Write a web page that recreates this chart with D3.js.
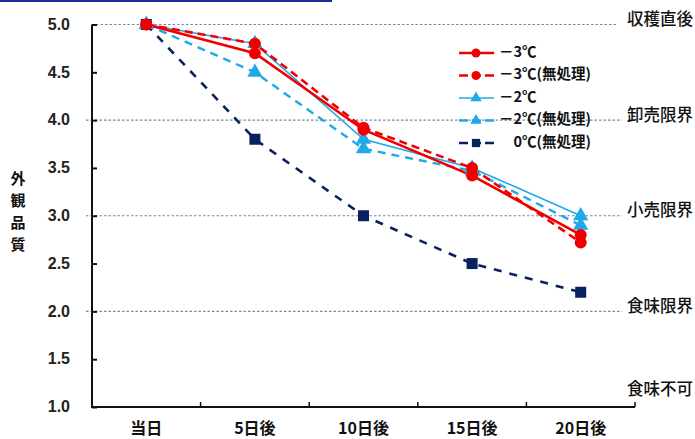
<!DOCTYPE html>
<html><head><meta charset="utf-8">
<script src="https://cdn.jsdelivr.net/npm/d3@7"></script>
<style>
html,body{margin:0;padding:0;background:#fff;}
svg{display:block;font-family:"Noto Sans CJK JP","Liberation Sans",Arial,sans-serif;}
</style></head>
<body><svg id="c" width="695" height="439"></svg>
<script>
const categories = ["当日","5日後","10日後","15日後","20日後"];
const yTicks = [1.0,1.5,2.0,2.5,3.0,3.5,4.0,4.5,5.0];
const refValues = [5.0,4.0,3.0,2.0,1.0];
const refLabels = ["収穫直後","卸売限界","小売限界","食味限界","食味不可"];
const seriesNames = ["－3℃","－3℃(無処理)","－2℃","－2℃(無処理)","　0℃(無処理)"];
const s1 = [5.0,4.7,3.9,3.42,2.8];
const s2 = [5.0,4.8,3.92,3.5,2.72];
const s3 = [5.0,4.8,3.8,3.5,3.0];
const s4 = [5.0,4.5,3.7,3.47,2.9];
const s5 = [5.0,3.8,3.0,2.5,2.2];

const series = [
  {name:seriesNames[0], values:s1, color:"#f00000", dash:null, width:2.6, marker:"circle"},
  {name:seriesNames[1], values:s2, color:"#f00000", dash:"8,5", width:2.6, marker:"circle"},
  {name:seriesNames[2], values:s3, color:"#20a8e8", dash:null, width:1.6, marker:"triangle"},
  {name:seriesNames[3], values:s4, color:"#20a8e8", dash:"8,6", width:2.4, marker:"triangle"},
  {name:seriesNames[4], values:s5, color:"#0a2160", dash:"8,8", width:2.6, marker:"square"}
];

const svg = d3.select("#c");
const pLeft = 92, pRight = 635, pTop = 24.5, pBottom = 407;
const x = d3.scaleBand().domain(categories).range([pLeft,pRight]);
const y = d3.scaleLinear().domain([1,5]).range([pBottom,pTop]);

svg.append("rect").attr("x",0).attr("y",0).attr("width",332).attr("height",2).attr("fill","#1b2aa0");

refValues.forEach((v,i)=>{
  if (v>1) {
    svg.append("line").attr("x1",v===5?96:86).attr("x2",v===5?618:622)
      .attr("y1",y(v)).attr("y2",y(v))
      .attr("stroke","#7a86a8").attr("stroke-width",1.2).attr("stroke-dasharray","2.5,2");
  }
  svg.append("text").attr("x",693).attr("y",y(v)-(v===1?16:4)).attr("text-anchor","end")
    .attr("dominant-baseline","middle").attr("font-size",16.5).attr("font-weight",500)
    .attr("fill","#111").text(refLabels[i]);
});

const yAxis = d3.axisRight(y).tickValues(yTicks).tickSize(5).tickFormat("");
const gy = svg.append("g").attr("transform",`translate(${pLeft},0)`).call(yAxis);
gy.select(".domain").attr("stroke","#111").attr("stroke-width",2).attr("d",`M0,${pTop}V${pBottom}`);
gy.selectAll(".tick line").attr("stroke","#111").attr("stroke-width",2);
yTicks.forEach(v=>{
  svg.append("text").attr("x",70).attr("y",y(v)+1).attr("text-anchor","end")
    .attr("dominant-baseline","middle").attr("font-size",16)
    .attr("font-family","Liberation Sans, Arial, sans-serif").attr("font-weight",700)
    .attr("fill","#222").text(v.toFixed(1));
});

const xTickPos = categories.map(c=>x(c)).concat([pRight]);
svg.append("line").attr("x1",pLeft-1).attr("x2",pRight).attr("y1",pBottom).attr("y2",pBottom)
  .attr("stroke","#111").attr("stroke-width",2);
xTickPos.slice(1).forEach(p=>{
  svg.append("line").attr("x1",p).attr("x2",p).attr("y1",pBottom).attr("y2",pBottom-5)
    .attr("stroke","#111").attr("stroke-width",1.5);
});
categories.forEach(c=>{
  svg.append("text").attr("x",x(c)+x.bandwidth()/2).attr("y",430).attr("text-anchor","middle")
    .attr("dominant-baseline","middle").attr("font-size",16).attr("font-weight",700)
    .attr("fill","#111").text(c);
});

["外","観","品","質"].forEach((ch,i)=>{
  svg.append("text").attr("x",18).attr("y",180+i*22).attr("text-anchor","middle")
    .attr("dominant-baseline","middle").attr("font-size",15).attr("font-weight",700)
    .attr("fill","#111").text(ch);
});

function drawMarker(g, type, cx, cy, color, s) {
  if (type==="circle") g.append("circle").attr("cx",cx).attr("cy",cy).attr("r",6*s).attr("fill",color);
  else if (type==="triangle") g.append("path").attr("d",d3.symbol(d3.symbolTriangle,100*s*s)()).attr("transform",`translate(${cx},${cy})`).attr("fill",color);
  else g.append("rect").attr("x",cx-5.5*s).attr("y",cy-5.5*s).attr("width",11*s).attr("height",11*s).attr("fill",color);
}

const line = d3.line().x((d,i)=>x(categories[i])+x.bandwidth()/2).y(d=>y(d));
const drawOrder = [4,3,2,1,0];
drawOrder.forEach(k=>{
  const s = series[k];
  svg.append("path").datum(s.values).attr("d",line).attr("fill","none")
    .attr("stroke",s.color).attr("stroke-width",s.width)
    .attr("stroke-dasharray",s.dash);
});
drawOrder.forEach(k=>{
  const s = series[k];
  const g = svg.append("g");
  s.values.forEach((v,i)=>drawMarker(g,s.marker,x(categories[i])+x.bandwidth()/2,y(v),s.color,1));
});

series.forEach((s,i)=>{
  const ly = 53 + i*22.5;
  const g = svg.append("g");
  g.append("line").attr("x1",459).attr("x2",494).attr("y1",ly).attr("y2",ly)
    .attr("stroke",s.color).attr("stroke-width",s.width).attr("stroke-dasharray",s.dash?"9,4":null);
  drawMarker(g,s.marker,476,ly,s.color,0.75);
  g.append("text").attr("x",499).attr("y",ly).attr("dominant-baseline","middle")
    .attr("font-size",14.5).attr("font-weight",600).attr("fill","#111").text(s.name);
});
</script></body></html>
